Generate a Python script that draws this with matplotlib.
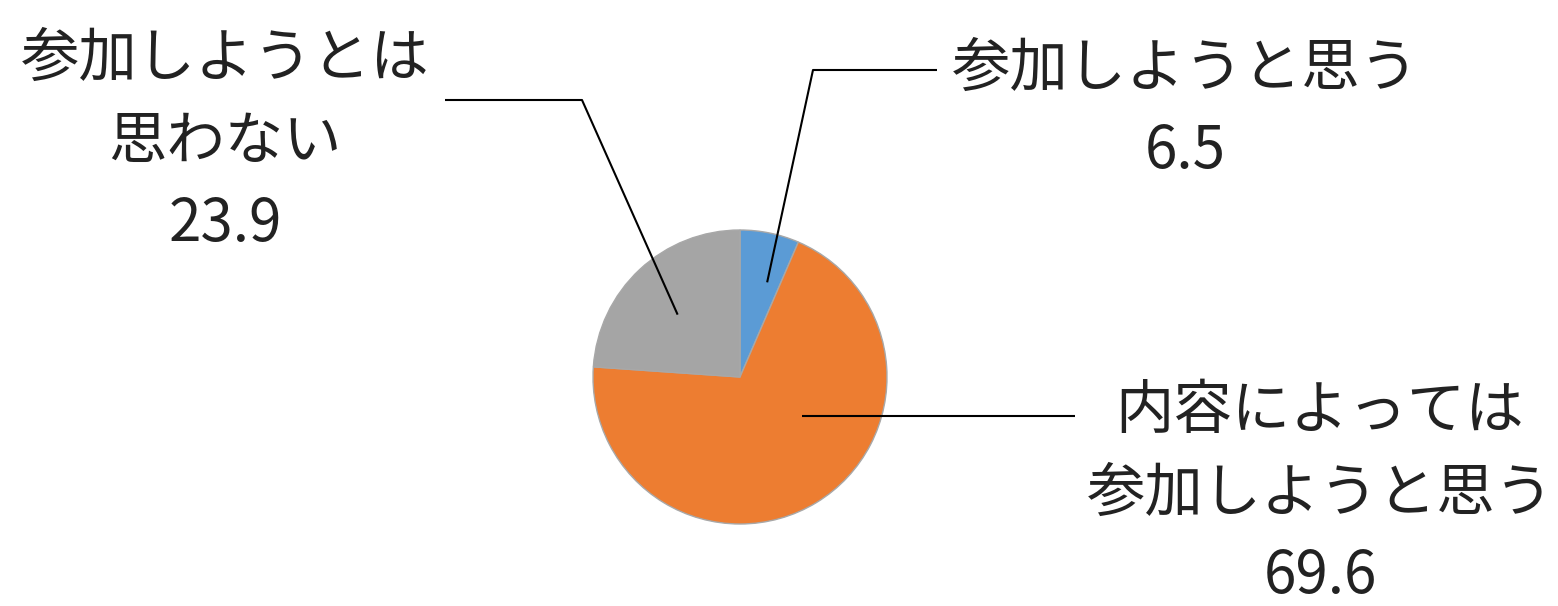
import numpy as np
import matplotlib.pyplot as plt

plt.rcParams['font.family'] = ['Noto Sans CJK JP', 'DejaVu Sans']

labels = ['参加しようと思う', '内容によっては\n参加しようと思う', '参加しようとは\n思わない']
values = [6.5, 69.6, 23.9]
colors = ['#5B9BD5', '#ED7D31', '#A5A5A5']

W, H = 1558, 606
fig = plt.figure(figsize=(W / 100, H / 100), dpi=100)
ax = fig.add_axes([0, 0, 1, 1])
ax.set_xlim(0, W)
ax.set_ylim(0, H)
ax.set_aspect('equal')
ax.axis('off')

cx, cy, r = 740, H - 377, 147
wedges, _ = ax.pie(values, colors=colors, startangle=90, counterclock=False,
                   center=(cx, cy), radius=r,
                   wedgeprops=dict(edgecolor='#a8a8a8', linewidth=1))
ax.set_xlim(0, W)
ax.set_ylim(0, H)

# label layout: anchor (angle deg, radius fraction), elbow point, end x/y, text centre
layout = [
    dict(anchor=(74, 0.67), elbow=(813, 70), end=(937, 70), text=(1185, 110)),
    dict(anchor=(-32, 0.5), elbow=None, end=(1075, None), text=(1320, 494)),
    dict(anchor=(135, 0.6), elbow=(582, 100), end=(445, 100), text=(225, 142)),
]

for lab, val, lay in zip(labels, values, layout):
    ang, fr = lay['anchor']
    ax0 = cx + fr * r * np.cos(np.radians(ang))
    ay0 = cy + fr * r * np.sin(np.radians(ang))
    pts = [(ax0, ay0)]
    if lay['elbow'] is not None:
        pts.append((lay['elbow'][0], H - lay['elbow'][1]))
    ex, ey = lay['end']
    pts.append((ex, ay0 if ey is None else H - ey))
    xs, ys = zip(*pts)
    ax.plot(xs, ys, color='black', lw=1.5, solid_capstyle='butt')
    tx, ty = lay['text']
    ax.text(tx, H - ty, f'{lab}\n{val:.1f}', ha='center', va='center',
            multialignment='center', fontsize=42, linespacing=1.45,
            color='#222222')

fig.savefig('out.png', dpi=100)
